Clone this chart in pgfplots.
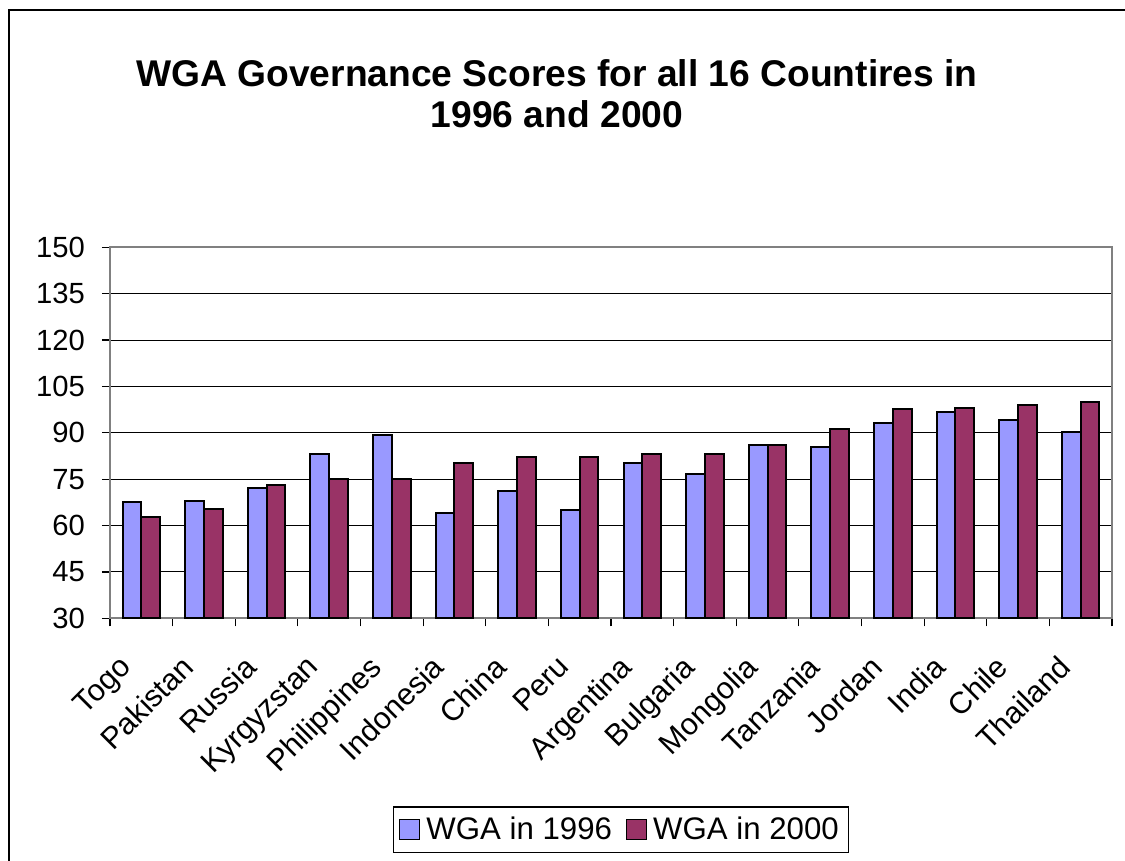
\documentclass[border=0pt]{standalone}
\usepackage{pgfplots}
\pgfplotsset{compat=1.18}
\usepackage{fontspec}
\setmainfont{Liberation Sans}
\definecolor{cA}{HTML}{9999FF}
\definecolor{cB}{HTML}{993366}
\definecolor{fr}{HTML}{808080}
\begin{document}
\begin{tikzpicture}[x=1pt,y=1pt]
\useasboundingbox (-55,-121.35) rectangle (507.5,309.15);
\draw[black,line width=0.6pt] (-50.5,-125) -- (-50.5,304.15) -- (510,304.15);
\begin{axis}[
  at={(0,0)}, anchor=south west,
  scale only axis, width=501pt, height=185.5pt,
  ymin=30, ymax=150, ytick={30,45,...,150},
  xmin=-0.5, xmax=15.5,
  xtick={0,...,15},
  xticklabels={Togo,Pakistan,Russia,Kyrgyzstan,Philippines,Indonesia,China,Peru,Argentina,Bulgaria,Mongolia,Tanzania,Jordan,India,Chile,Thailand},
  minor xtick={-0.5,0.5,...,15.5},
  tick align=outside,
  major tick length=4pt, minor tick length=4pt,
  major x tick style={draw=none},
  tick style={black, line width=0.6pt},
  xtick pos=bottom, ytick pos=left,
  axis line style={draw=fr, line width=0.8pt},
  ymajorgrids, major grid style={black, line width=0.5pt},
  /pgf/number format/assume math mode=true,
  tick label style={font=\fontsize{14.6}{16}\selectfont},
  y tick label style={xshift=-5pt},
  x tick label style={font=\fontsize{15.2}{16}\selectfont, rotate=45, anchor=north east, inner sep=1pt, xshift=-17pt},
  ybar, bar width=0.3,
  legend style={at={(0.51,-0.507)}, anchor=north, draw=black, line width=0.6pt,
    font=\fontsize{15.6}{17}\selectfont, legend columns=2, inner sep=3pt,
    /tikz/every odd column/.append style={column sep=1pt},
    /tikz/every even column/.append style={column sep=5pt}},
  legend image code/.code={\draw[#1, line width=0.6pt] (1pt,-5pt) rectangle (11pt,5pt);},
]
\addplot[draw=black, fill=cA, line width=1pt, bar shift=-0.15] coordinates {
(0,67.6) (1,68.1) (2,72.1) (3,83.1) (4,89.2) (5,64.1) (6,71.1) (7,65.1)
(8,80.1) (9,76.6) (10,86.1) (11,85.5) (12,93.1) (13,96.7) (14,94.0) (15,90.1)};
\addplot[draw=black, fill=cB, line width=1pt, bar shift=0.15] coordinates {
(0,62.7) (1,65.2) (2,73.1) (3,75.2) (4,75.2) (5,80.1) (6,82.1) (7,82.1)
(8,83.1) (9,83.1) (10,86.1) (11,91.1) (12,97.6) (13,98.1) (14,99.1) (15,100.0)};
\legend{WGA in 1996, WGA in 2000}
\end{axis}
\node[anchor=base, align=center, font=\bfseries\fontsize{18.6}{20.5}\selectfont] at (223.5,245.15)
  {WGA Governance Scores for all 16 Countires in\\1996 and 2000};
\end{tikzpicture}
\end{document}
